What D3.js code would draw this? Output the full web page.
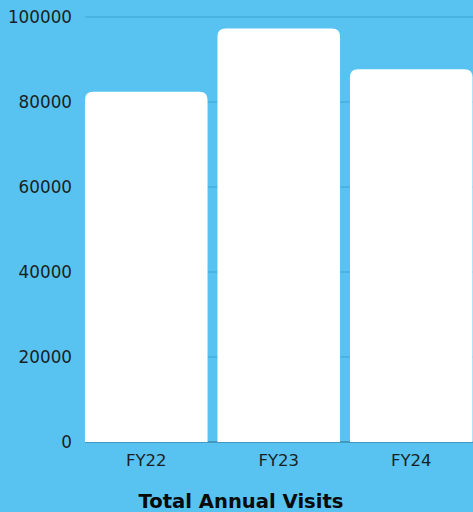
<!DOCTYPE html>
<html>
<head>
<meta charset="utf-8">
<script src="https://cdn.jsdelivr.net/npm/d3@7"></script>
<style>
  html, body { margin: 0; padding: 0; background: #58C3F0; }
  svg { display: block; }
  text { font-family: "DejaVu Sans", sans-serif; }
</style>
</head>
<body>
<svg id="chart" width="473" height="512"></svg>
<script>
const categories = ["FY22", "FY23", "FY24"];
const visits = [82400, 97300, 87700];
const yTicks = [0, 20000, 40000, 60000, 80000, 100000];
const title = "Total Annual Visits";

const W = 473, H = 512;
const svg = d3.select("#chart");
svg.append("rect").attr("width", W).attr("height", H).attr("fill", "#58C3F0");

const x = d3.scaleBand().domain(categories).range([80, 477.5]).paddingInner(0.075).paddingOuter(0.0375);
const y = d3.scaleLinear().domain([0, 100000]).range([442, 17]);

// gridlines
svg.append("g").selectAll("line").data(yTicks.filter(d => d > 0)).join("line")
  .attr("x1", 85).attr("x2", W)
  .attr("y1", d => y(d)).attr("y2", d => y(d))
  .attr("stroke", "#3AA6D6").attr("stroke-width", 1.2);
svg.append("line").attr("x1", 85).attr("x2", W)
  .attr("y1", y(0)).attr("y2", y(0))
  .attr("stroke", "#2E6F8E").attr("stroke-width", 1.2);

// bars with rounded top corners
const r = 8;
svg.append("g").selectAll("path").data(categories).join("path")
  .attr("fill", "#FFFFFF")
  .attr("d", (c, i) => {
    const x0 = x(c), x1 = x(c) + x.bandwidth();
    const yt = y(visits[i]), yb = y(0);
    return `M${x0},${yb}L${x0},${yt + r}Q${x0},${yt} ${x0 + r},${yt}L${x1 - r},${yt}Q${x1},${yt} ${x1},${yt + r}L${x1},${yb}Z`;
  });

// y axis labels
svg.append("g").selectAll("text").data(yTicks).join("text")
  .attr("x", 72).attr("y", d => y(d)).attr("dy", "0.38em")
  .attr("text-anchor", "end").attr("font-size", 16.8).attr("fill", "#1a1f24")
  .text(d => d);

// x labels
svg.append("g").selectAll("text").data(categories).join("text")
  .attr("x", c => x(c) + x.bandwidth() / 2).attr("y", 466)
  .attr("text-anchor", "middle").attr("font-size", 16.5).attr("fill", "#1a1f24")
  .text(c => c);

// title
svg.append("text").attr("x", 241).attr("y", 508)
  .attr("text-anchor", "middle").attr("font-size", 19.6).attr("font-weight", "bold")
  .attr("fill", "#0a0a0a").text(title);
</script>
</body>
</html>
